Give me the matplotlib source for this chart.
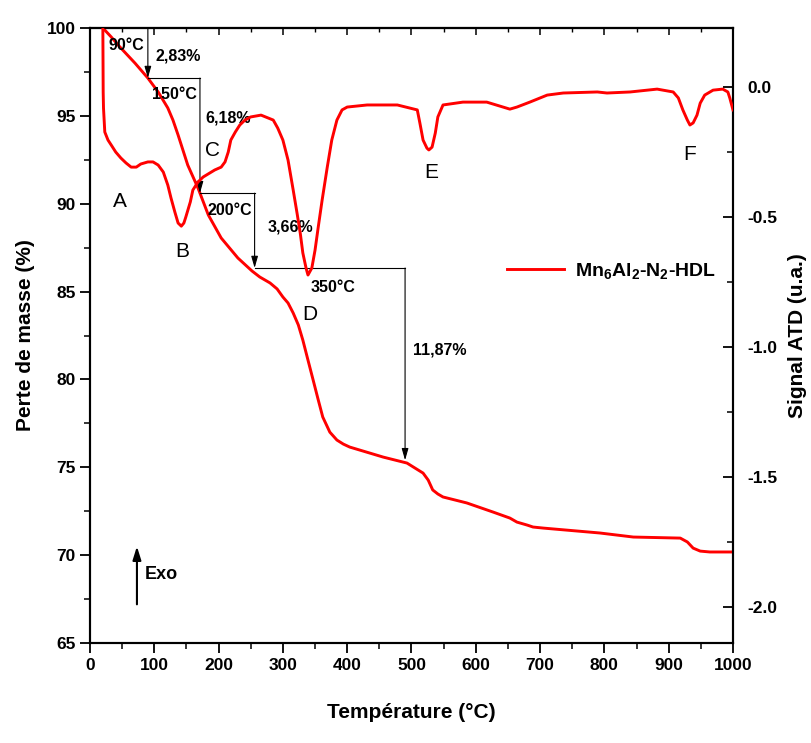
import matplotlib
matplotlib.use("Agg")
import matplotlib.pyplot as plt
from matplotlib.ticker import MultipleLocator

plt.rcParams['font.family'] = ['Liberation Sans', 'DejaVu Sans']
plt.rcParams['mathtext.fontset'] = 'custom'
plt.rcParams['mathtext.bf'] = 'Liberation Sans:bold'
plt.rcParams['mathtext.rm'] = 'Liberation Sans:bold'
plt.rcParams['mathtext.default'] = 'bf'

# ---- TGA (mass loss, left axis) ----
tg_T = [20, 33, 48, 70, 90, 106, 121, 129, 137, 152, 168, 184, 204, 230, 252,
        264, 280, 291, 300, 308, 316, 324, 331, 339, 347, 355, 362, 373, 384,
        394, 404, 456, 493, 518, 526, 533, 541, 549, 586, 627, 653, 664, 680,
        689, 705, 793, 845, 918, 929, 938, 949, 964, 1000]
tg_m = [100.0, 99.49, 98.86, 98.0, 97.15, 96.36, 95.45, 94.76, 93.91, 92.20,
        90.89, 89.36, 88.05, 86.91, 86.17, 85.83, 85.49, 85.15, 84.69, 84.35,
        83.78, 83.10, 82.24, 81.10, 79.97, 78.83, 77.86, 77.0, 76.55, 76.32,
        76.15, 75.58, 75.24, 74.67, 74.27, 73.71, 73.48, 73.31, 72.97, 72.45,
        72.11, 71.88, 71.71, 71.60, 71.54, 71.26, 71.03, 70.97, 70.75, 70.40,
        70.23, 70.18, 70.18]

# ---- DTA (right axis) ----
dta_T = [20, 20.5, 21, 23, 28, 33, 40, 48, 56, 64, 72, 79, 90, 98, 106, 114,
         121, 126, 132, 137, 142, 146, 149, 156, 160, 168, 176, 194, 204, 210,
         215, 219, 226, 233, 241, 250, 266, 285, 292, 300, 308, 316, 322, 327,
         331, 336, 339, 345, 350, 355, 361, 369, 376, 384, 392, 400, 431, 478,
         509, 513, 518, 524, 527, 532, 537, 541, 549, 580, 617, 653, 664, 684,
         711, 736, 789, 804, 840, 882, 907, 915, 922, 929, 933, 938, 944, 949,
         956, 969, 984, 992, 995, 1000]
dta_v = [0.227, -0.02, -0.081, -0.173, -0.204, -0.223, -0.250, -0.273, -0.292,
         -0.308, -0.308, -0.296, -0.288, -0.288, -0.300, -0.327, -0.377, -0.427,
         -0.481, -0.523, -0.535, -0.523, -0.500, -0.442, -0.396, -0.365, -0.346,
         -0.319, -0.308, -0.288, -0.250, -0.204, -0.173, -0.146, -0.127, -0.115,
         -0.108, -0.127, -0.158, -0.204, -0.281, -0.396, -0.485, -0.562, -0.638,
         -0.696, -0.723, -0.696, -0.627, -0.538, -0.435, -0.308, -0.204, -0.127,
         -0.088, -0.077, -0.069, -0.069, -0.088, -0.138, -0.204, -0.235, -0.242,
         -0.231, -0.177, -0.115, -0.069, -0.058, -0.058, -0.085, -0.077, -0.058,
         -0.031, -0.023, -0.019, -0.023, -0.019, -0.008, -0.019, -0.042, -0.088,
         -0.127, -0.146, -0.138, -0.108, -0.062, -0.031, -0.012, -0.008, -0.019,
         -0.042, -0.088]

x_ticks = list(range(0, 1001, 100))
left_ticks = [65, 70, 75, 80, 85, 90, 95, 100]
right_ticks = [-2.0, -1.5, -1.0, -0.5, 0.0]

# peak labels (T, left-axis value)
peak_names = ['A', 'B', 'C', 'D', 'E', 'F']
peak_T = [47, 143, 190, 342, 530, 933]
peak_y = [90.15, 87.3, 93.05, 83.67, 91.75, 92.8]

# step annotations: vertical arrows (T, y_start, y_end) and horizontal lines (y, T_start, T_end)
vert_T = [90, 171, 256, 490]
vert_y0 = [100.0, 97.15, 90.6, 86.34]
vert_y1 = [97.15, 90.6, 86.34, 75.4]
horiz_y = [97.15, 90.6, 86.34]
horiz_T0 = [90, 171, 256]
horiz_T1 = [171, 256, 490]

step_texts = ['90°C', '2,83%', '150°C', '6,18%', '200°C', '3,66%', '350°C', '11,87%']
step_T = [57, 137, 132, 215, 218, 311, 378, 544]
step_y = [99.0, 98.4, 96.2, 94.9, 89.64, 88.7, 85.25, 81.7]

W, H = 812, 743
fig = plt.figure(figsize=(W / 100, H / 100), dpi=100)
ax = fig.add_axes([90 / W, 1 - 643 / H, (733 - 90) / W, (643 - 28) / H])
ax2 = ax.twinx()

red = '#ff0000'
l1, = ax.plot(tg_T, tg_m, color=red, lw=2.1, label=r'Mn$_6$Al$_2$-N$_2$-HDL', zorder=3)
ax2.plot(dta_T, dta_v, color=red, lw=2.1, zorder=3)

ax.set_xlim(0, 1000)
ax.set_ylim(65, 100)
ax2.set_ylim(-2.138, 0.227)

ax.set_xticks(x_ticks)
ax.xaxis.set_minor_locator(MultipleLocator(50))
ax.set_yticks(left_ticks)
ax.yaxis.set_minor_locator(MultipleLocator(2.5))
ax2.set_yticks(right_ticks)
ax2.yaxis.set_minor_locator(MultipleLocator(0.25))
ax2.set_yticklabels([f'{v:.1f}' for v in right_ticks])

for a in (ax, ax2):
    for s in a.spines.values():
        s.set_linewidth(1.5)

ax.tick_params(axis='both', which='major', direction='out', length=7, width=1.3,
               labelsize=12.5)
ax.tick_params(axis='both', which='minor', direction='out', length=4, width=1.1)
ax2.tick_params(axis='y', which='major', direction='in', length=7, width=1.3,
                labelsize=12.5, pad=10)
ax2.tick_params(axis='y', which='minor', direction='in', length=4, width=1.1)
for lab in ax.get_xticklabels() + ax.get_yticklabels() + ax2.get_yticklabels():
    lab.set_fontweight('bold')

top = ax.secondary_xaxis('top')
top.set_xticks(x_ticks)
top.xaxis.set_minor_locator(MultipleLocator(50))
top.tick_params(which='major', direction='in', length=5, width=1.1, labeltop=False)
top.tick_params(which='minor', direction='in', length=3, width=1.0)
top.spines['top'].set_linewidth(1.5)

ax.set_xlabel('Température (°C)', fontsize=15, fontweight='bold', labelpad=22)
ax.set_ylabel('Perte de masse (%)', fontsize=15, fontweight='bold', labelpad=8)
ax2.set_ylabel('Signal ATD (u.a.)', fontsize=15, fontweight='bold', labelpad=8)

# step annotations
for T, y0, y1 in zip(vert_T, vert_y0, vert_y1):
    ax.annotate('', xy=(T, y1), xytext=(T, y0),
                arrowprops=dict(arrowstyle='-|>,head_length=0.7,head_width=0.2',
                                color='black', lw=0.8, shrinkA=0, shrinkB=0), zorder=4)
for y, T0, T1 in zip(horiz_y, horiz_T0, horiz_T1):
    ax.plot([T0, T1], [y, y], color='black', lw=0.8, zorder=4)
for t, T, y in zip(step_texts, step_T, step_y):
    ax.text(T, y, t, fontsize=11.5, fontweight='bold', ha='center', va='center', zorder=5)

for n, T, y in zip(peak_names, peak_T, peak_y):
    ax.text(T, y, n, fontsize=15, ha='center', va='center', zorder=5)

# Exo arrow
ax.annotate('', xy=(73, 70.5), xytext=(73, 67.2),
            arrowprops=dict(arrowstyle='-|>,head_length=0.8,head_width=0.25',
                            color='black', lw=1.5, shrinkA=0, shrinkB=0))
ax.text(85, 68.87, 'Exo', fontsize=13, fontweight='bold', ha='left', va='center')

leg = ax.legend(handles=[l1], loc='center left', bbox_to_anchor=(0.622, 0.605),
                frameon=False, handlelength=2.9, handletextpad=0.55,
                prop=dict(weight='bold', size=14))

fig.savefig('out.png', dpi=100)
